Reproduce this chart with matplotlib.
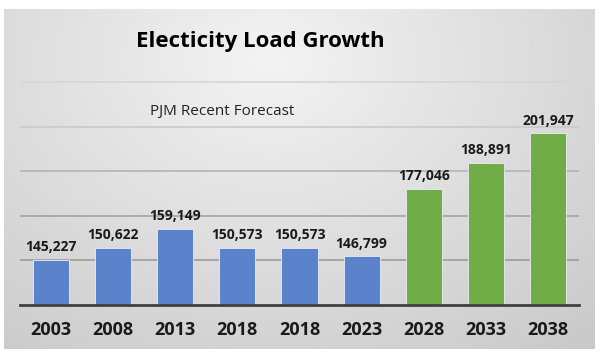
import numpy as np
import matplotlib.pyplot as plt

# data
annees = ['2003', '2008', '2013', '2018', '2018', '2023', '2028', '2033', '2038']
charge = [145227, 150622, 159149, 150573, 150573, 146799, 177046, 188891, 201947]
prevision = [False, False, False, False, False, False, True, True, True]

bleu = '#5b83cc'
vert = '#70ad47'

fig = plt.figure(figsize=(6.01, 3.59), dpi=100)
fig.patch.set_facecolor('white')

# fond gris en degrade
fond = fig.add_axes([4 / 601, 1 - 349 / 359, 591 / 601, 340 / 359])
yy, xx = np.mgrid[0:1:200j, 0:1:300j]
dist = np.sqrt(((xx - 0.45) / 0.75) ** 2 + ((yy - 0.15) / 1.0) ** 2)
gris = np.clip(0.955 - 0.15 * dist, 0, 1)
fond.imshow(np.dstack([gris, gris, gris]), aspect='auto',
            extent=[0, 1, 0, 1], origin='upper')
fond.set_axis_off()

ax = fig.add_axes([20 / 601, 1 - 305 / 359, 559 / 601, 224 / 359])
ax.patch.set_alpha(0)
x = np.arange(len(annees))
couleurs = [vert if p else bleu for p in prevision]
barres = ax.bar(x, charge, width=0.58, color=couleurs, zorder=3,
                edgecolor='#e8eef8', linewidth=0.6)
for xi, v in zip(x, charge):
    ax.text(xi, v + 2500, '{:,}'.format(v), ha='center', va='bottom',
            fontsize=10, fontweight='bold', color='#1a1a1a',
            family='Open Sans', zorder=4)

ax.set_xlim(-0.5, len(annees) - 0.5)
ax.set_ylim(125000, 225500)
# lignes de grille, plus claires vers le haut
gris_grille = ['#9c9c9c', '#a4a4a4', '#b4b4b4', '#cacaca', '#d6d6d6']
for niveau, c in zip(range(145000, 225001, 20000), gris_grille):
    ax.axhline(niveau, color=c, linewidth=1.2, zorder=1)
ax.tick_params(axis='y', left=False, labelleft=False)
ax.tick_params(axis='x', bottom=False, pad=8)
ax.set_xticks(x)
ax.set_xticklabels(annees, fontsize=13, fontweight='bold',
                   family='Open Sans', color='#1a1a1a')
for s in ['top', 'right', 'left']:
    ax.spines[s].set_visible(False)
ax.spines['bottom'].set_color('#404040')
ax.spines['bottom'].set_linewidth(2)
ax.spines['bottom'].set_zorder(5)

fig.text(0.433, 1 - 42 / 359, 'Electicity Load Growth', ha='center',
         va='center', fontsize=16, fontweight='bold', family='Open Sans',
         color='black')
fig.text(222 / 601, 1 - 112 / 359, 'PJM Recent Forecast', ha='center',
         va='center', fontsize=11, family='Open Sans', color='#222222')

fig.savefig('out.png', dpi=100)
